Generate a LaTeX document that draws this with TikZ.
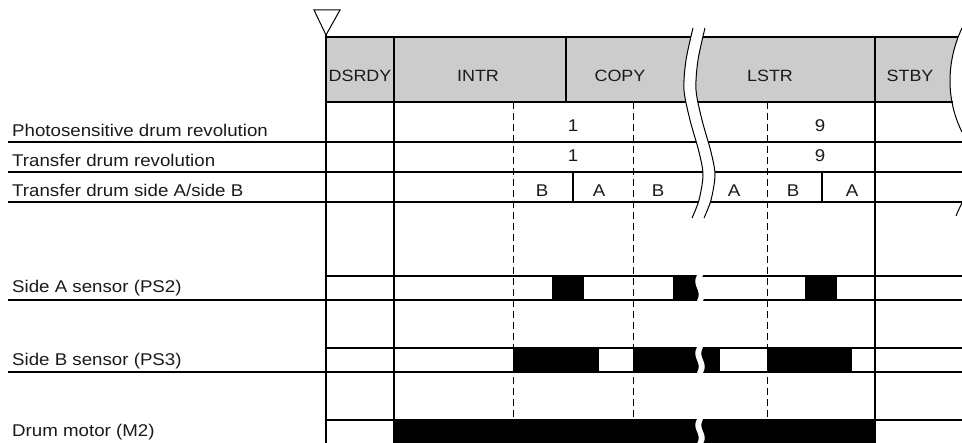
\documentclass[tikz,border=0pt]{standalone}
\usepackage{fontspec}
\setmainfont{Liberation Sans}[FakeStretch=1.1]
\definecolor{hdrgray}{HTML}{CCCCCC}
\definecolor{txtc}{HTML}{1A1A1A}
\begin{document}
\begin{tikzpicture}[x=1pt,y=-1pt,
  lbl/.style={font=\fontsize{17}{19}\selectfont, text=txtc, inner sep=0pt},
  hlbl/.style={font=\fontsize{16.3}{19}\selectfont, text=txtc, inner sep=0pt, anchor=base},
  rowlbl/.style={lbl, anchor=base west},
  cval/.style={lbl, anchor=base},
  ln/.style={line width=1.2pt},
  thk/.style={line width=2pt},
  dsh/.style={line width=1pt, dash pattern=on 7pt off 4pt},
  pulse/.style={fill=black},
  gap/.style={fill=white, draw=none}]
\useasboundingbox (0,0) rectangle (962,443);

% header fill
\fill[hdrgray] (326,37) rectangle (962,102);
\fill[white] (962,28) .. controls (946,62) and (946,100) .. (962,132) -- (962,28) -- cycle;

% pulses
\fill[pulse] (552,276) rectangle (584,300);
\fill[pulse] (673,276) rectangle (699,300);
\fill[pulse] (805,276) rectangle (837,300);
\fill[pulse] (513,348) rectangle (599,372);
\fill[pulse] (633,348) rectangle (720,372);
\fill[pulse] (767,348) rectangle (852,372);
\fill[pulse] (394,420) rectangle (875,443);

% horizontal lines
\draw[thk] (326,37) -- (958,37);
\draw[ln] (326,102) -- (953,102);
\draw[ln] (8,142) -- (962,142);
\draw[ln] (8,172) -- (962,172);
\draw[ln] (8,202) -- (962,202);
\draw[ln] (326,276) -- (962,276);
\draw[ln] (8,300) -- (962,300);
\draw[ln] (326,348) -- (962,348);
\draw[ln] (8,372) -- (962,372);
\draw[ln] (326,420) -- (962,420);

% vertical lines
\draw[thk] (326,35) -- (326,443);
\draw[ln] (394,37) -- (394,443);
\draw[ln] (566,37) -- (566,102);
\draw[ln] (875,37) -- (875,443);
\draw[ln] (573,172) -- (573,202);
\draw[ln] (822,172) -- (822,202);
\draw[dsh] (513,102) -- (513,443);
\draw[dsh] (633,102) -- (633,443);
\draw[dsh] (767,102) -- (767,443);

% triangle marker
\draw[line width=1pt] (314,10) -- (340,10) -- (326,35) -- cycle;

% right edge break curves
\draw[line width=1pt] (962,28) .. controls (946,62) and (946,100) .. (962,132);
\draw[line width=1pt] (962,203) .. controls (960,207) and (958,211) .. (956,216);

% upper break
\fill[white] plot[smooth] coordinates {(693,28) (686,60) (684,90) (690,120) (699,152) (703,175) (699,200) (692,218)}
  -- plot[smooth] coordinates {(704,218) (711,200) (715,175) (711,152) (702,120) (696,90) (698,60) (705,28)} -- cycle;
\draw[line width=1pt] plot[smooth] coordinates {(693,28) (686,60) (684,90) (690,120) (699,152) (703,175) (699,200) (692,218)};
\draw[line width=1pt] plot[smooth] coordinates {(705,28) (698,60) (696,90) (702,120) (711,152) (715,175) (711,200) (704,218)};

% lower breaks
\foreach \yt/\yb in {275/301, 347/373, 419/444} {
  \fill[white] (697,\yt) .. controls (691,{\yt+0.45*(\yb-\yt)}) and (703,{\yt+0.55*(\yb-\yt)}) .. (697,\yb)
    -- (703,\yb) .. controls (709,{\yt+0.55*(\yb-\yt)}) and (697,{\yt+0.45*(\yb-\yt)}) .. (703,\yt) -- cycle;
}

% header texts
\node[hlbl] (hdsrdy) at (360,82) {DSRDY};
\node[hlbl] (hintr) at (478,82) {INTR};
\node[hlbl] (hcopy) at (620,82) {COPY};
\node[hlbl] (hlstr) at (770,82) {LSTR};
\node[hlbl] (hstby) at (910,82) {STBY};

% row labels
\node[rowlbl] (lphoto) at (12,137) {Photosensitive drum revolution};
\node[rowlbl] (ltrans) at (12,167) {Transfer drum revolution};
\node[rowlbl] (lside) at (12,197) {Transfer drum side A/side B};
\node[rowlbl] (lps2) at (12,293) {Side A sensor (PS2)};
\node[rowlbl] (lps3) at (12,366) {Side B sensor (PS3)};
\node[rowlbl] (lm2) at (12,437) {Drum motor (M2)};

% values
\node[cval] (v1a) at (573,132) {1};
\node[cval] (v9a) at (820,132) {9};
\node[cval] (v1b) at (573,162) {1};
\node[cval] (v9b) at (820,162) {9};
\node[cval] (s1) at (542,197) {B};
\node[cval] (s2) at (599,197) {A};
\node[cval] (s3) at (658,197) {B};
\node[cval] (s4) at (734,197) {A};
\node[cval] (s5) at (793,197) {B};
\node[cval] (s6) at (852,197) {A};
\end{tikzpicture}
\end{document}
